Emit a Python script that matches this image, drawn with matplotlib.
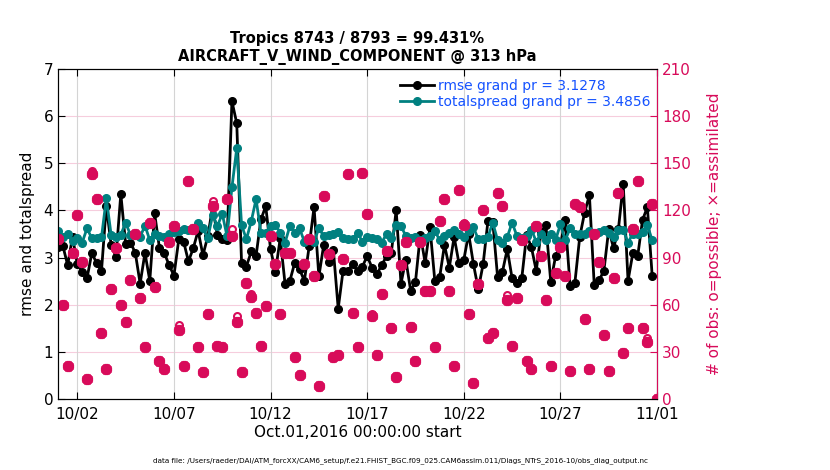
import numpy as np
import pandas as pd
import matplotlib
matplotlib.use("Agg")
import matplotlib.pyplot as plt
import matplotlib.dates as mdates

# 6-hourly bins, Oct 1 00Z .. Nov 1 00Z
times = pd.date_range("2016-10-01 00:00", periods=125, freq="6h")

rmse = [3.23, 3.25, 2.84, 3.44, 2.86, 2.70, 2.56, 3.10, 2.88, 2.72,
        4.10, 3.27, 3.02, 4.35, 3.29, 3.32, 3.10, 2.45, 3.10, 2.51,
        3.94, 3.20, 3.10, 2.84, 2.62, 3.39, 3.34, 2.92, 3.20, 3.57,
        3.05, 3.45, 4.07, 3.47, 3.39, 3.37, 6.32, 5.85, 2.88, 2.81,
        3.13, 3.04, 3.81, 4.09, 3.18, 2.70, 3.41, 2.44, 2.51, 2.89,
        2.75, 2.51, 3.25, 4.07, 2.60, 3.27, 2.91, 3.16, 1.92, 2.72,
        2.72, 2.86, 2.72, 2.81, 3.03, 2.79, 2.65, 2.84, 3.03, 3.10,
        4.01, 2.45, 2.96, 2.30, 2.49, 3.49, 2.89, 3.64, 2.51, 2.58,
        3.27, 2.79, 3.44, 2.88, 2.95, 3.51, 2.86, 2.33, 2.86, 3.78,
        3.76, 2.58, 2.70, 3.18, 2.56, 2.47, 2.56, 3.48, 3.22, 2.72,
        3.55, 3.69, 2.49, 3.03, 3.27, 3.80, 2.40, 2.47, 3.44, 3.95,
        4.33, 2.42, 2.52, 2.72, 3.60, 3.20, 3.60, 4.56, 2.51, 3.10,
        3.03, 3.80, 4.07, 2.61, np.nan]

spread = [3.57, 3.44, 3.51, 3.36, 3.41, 3.32, 3.62, 3.41, 3.42, 3.43,
          4.26, 3.48, 3.44, 3.49, 3.74, 3.48, 3.50, 3.44, 3.68, 3.37,
          3.51, 3.46, 3.43, 3.51, 3.55, 3.57, 3.60, 3.59, 3.59, 3.74,
          3.62, 3.41, 3.90, 3.67, 3.93, 3.45, 4.49, 5.32, 3.69, 3.39,
          3.77, 4.24, 3.53, 3.53, 3.67, 3.69, 3.53, 3.32, 3.67, 3.53,
          3.62, 3.34, 3.39, 3.34, 3.62, 3.46, 3.48, 3.50, 3.55, 3.41,
          3.39, 3.39, 3.53, 3.34, 3.43, 3.41, 3.39, 3.32, 3.50, 3.41,
          3.69, 3.67, 3.46, 3.41, 3.44, 3.37, 3.41, 3.46, 3.57, 3.37,
          3.46, 3.53, 3.58, 3.50, 3.43, 3.57, 3.64, 3.39, 3.39, 3.44,
          3.74, 3.37, 3.32, 3.44, 3.74, 3.46, 3.41, 3.46, 3.59, 3.34,
          3.51, 3.37, 3.51, 3.37, 3.71, 3.37, 3.62, 3.50, 3.50, 3.51,
          3.57, 3.48, 3.55, 3.59, 3.53, 3.44, 3.59, 3.59, 3.32, 3.51,
          3.50, 3.55, 3.69, 3.37, np.nan]

n_used = [102, 60, 21, 93, 117, 87, 13, 143, 127, 42,
          19, 70, 96, 60, 49, 76, 105, 64, 33, 112,
          71, 24, 19, 100, 110, 44, 21, 139, 108, 33,
          17, 54, 123, 34, 33, 127, 104, 49, 17, 74,
          65, 55, 34, 59, 104, 86, 54, 93, 93, 27,
          15, 86, 102, 78, 8, 129, 92, 27, 28, 89,
          143, 55, 33, 144, 118, 53, 28, 67, 94, 45,
          14, 85, 100, 46, 24, 100, 69, 69, 33, 113,
          127, 69, 21, 133, 111, 54, 10, 73, 120, 39,
          42, 131, 123, 63, 34, 64, 101, 24, 19, 110,
          91, 63, 21, 80, 97, 78, 18, 124, 122, 51,
          19, 105, 87, 41, 18, 77, 131, 29, 45, 108,
          139, 45, 36, 124, 0]

n_poss = [102, 60, 21, 93, 117, 87, 13, 145, 127, 42,
          19, 70, 96, 60, 49, 76, 105, 64, 33, 112,
          71, 24, 19, 100, 110, 47, 21, 139, 108, 33,
          17, 54, 126, 34, 33, 127, 108, 53, 17, 74,
          67, 55, 34, 59, 104, 86, 54, 93, 93, 27,
          15, 86, 102, 79, 8, 129, 92, 27, 28, 89,
          143, 55, 33, 144, 118, 54, 28, 67, 94, 45,
          14, 85, 100, 46, 24, 100, 69, 69, 33, 113,
          127, 69, 21, 133, 112, 54, 10, 73, 120, 39,
          42, 131, 123, 66, 34, 64, 101, 24, 19, 110,
          91, 63, 21, 80, 97, 79, 18, 124, 122, 51,
          19, 105, 87, 41, 18, 77, 131, 29, 45, 108,
          139, 46, 39, 124, 0]

title = "Tropics 8743 / 8793 = 99.431%\nAIRCRAFT_V_WIND_COMPONENT @ 313 hPa"
rmse_label = "rmse grand pr = 3.1278"
spread_label = "totalspread grand pr = 3.4856"
footer = ("data file: /Users/raeder/DAI/ATM_forcXX/CAM6_setup/"
          "f.e21.FHIST_BGC.f09_025.CAM6assim.011/Diags_NTrS_2016-10/obs_diag_output.nc")

magenta = "#D80B5A"
teal = "#008080"
blue = "#1452FF"

plt.rcParams["font.family"] = ["DejaVu Sans"]

fig = plt.figure(figsize=(8.3, 4.7), dpi=100)
ax = fig.add_axes([0.0699, 0.151, 0.7217, 0.702])

ax.plot(times, rmse, "-o", color="black", lw=2, ms=5.5, label=rmse_label, zorder=3)
ax.plot(times, spread, "-o", color=teal, lw=2, ms=5.5, label=spread_label, zorder=3)

ax.set_ylim(0, 7)
ax.set_yticks(range(0, 8))
ax.set_xlim(pd.Timestamp("2016-10-01 00:00"), pd.Timestamp("2016-11-01 00:00"))
ax.set_xticks(pd.to_datetime(["2016-10-02", "2016-10-07", "2016-10-12", "2016-10-17",
                              "2016-10-22", "2016-10-27", "2016-11-01"]))
ax.xaxis.set_major_formatter(mdates.DateFormatter("%m/%d"))
ax.grid(axis="x", color="#d4d4d4", lw=0.8)
for yv in range(1, 7):
    ax.axhline(yv, color="#f6cddd", lw=0.8, zorder=0)
ax.tick_params(direction="in", labelsize=11, top=True, length=5)
ax.tick_params(axis="x", pad=6)
ax.tick_params(axis="y", right=False)
ax.set_ylabel("rmse and totalspread", fontsize=11, labelpad=6)
ax.set_xlabel("Oct.01,2016 00:00:00 start", fontsize=11, labelpad=2)
ax.set_title(title, fontsize=10.5, fontweight="bold", pad=6)

ax2 = ax.twinx()
ax2.plot(times, n_poss, "o", mfc="none", mec=magenta, mew=1.5, ms=5, ls="none")
ax2.plot(times, n_used, marker=(8, 2, 0), color=magenta, mew=2.6, ms=8, ls="none")
ax2.set_ylim(0, 210)
ax2.set_yticks(range(0, 211, 30))
ax2.tick_params(axis="y", colors=magenta, direction="in", labelsize=11, length=5)
ax2.spines["right"].set_color(magenta)
ax2.set_ylabel("# of obs: o=possible; \u00d7=assimilated", color=magenta,
               fontsize=11, labelpad=12)

leg = ax.legend(loc="upper left", bbox_to_anchor=(0.555, 1.0), frameon=False,
                fontsize=10, handlelength=2.4, borderaxespad=0.3,
                labelspacing=0.15, handletextpad=0.3)
for t in leg.get_texts():
    t.set_color(blue)

fig.text(0.482, 0.017, footer, fontsize=5.2, ha="center")

fig.savefig("out.png", dpi=100)
